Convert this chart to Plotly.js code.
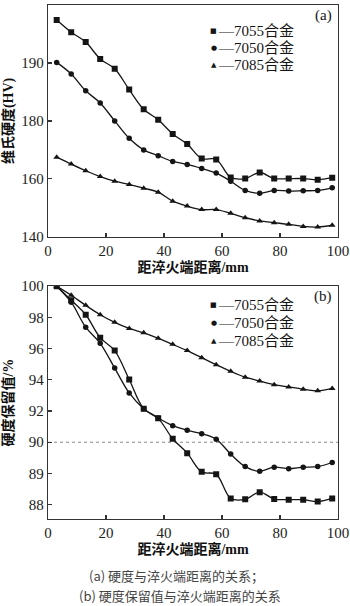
<!DOCTYPE html>
<html>
<head>
<meta charset="utf-8">
<script src="https://cdn.plot.ly/plotly-3.0.1.min.js"></script>
<style>html,body{margin:0;padding:0;background:#fff;}#chart{width:350px;height:606px;}</style>
</head>
<body>
<div id="chart"></div>
<script>
// ---- data ----
const distance = [3, 8, 13, 18, 23, 28, 33, 38, 43, 48, 53, 58, 63, 68, 73, 78, 83, 88, 93, 98];
const alloyNames = ['7055合金', '7050合金', '7085合金'];
const hv7055 = [197.4, 195.3, 193.6, 190.7, 189.0, 185.4, 182.0, 180.2, 175.5, 172.0, 167.0, 166.7, 160.5, 160.1, 162.2, 160.1, 160.1, 160.1, 159.7, 160.4];
const hv7050 = [190.1, 188.1, 185.2, 183.1, 180.0, 174.0, 170.0, 168.0, 166.0, 165.0, 163.6, 162.0, 159.2, 156.0, 155.0, 156.0, 155.8, 155.9, 156.0, 156.9];
const hv7085 = [167.5, 165.1, 162.8, 160.8, 159.2, 158.1, 156.8, 155.4, 152.3, 150.6, 149.4, 149.4, 148.1, 146.6, 145.5, 144.9, 144.3, 143.6, 143.4, 144.0];
const ret7055 = [100, 99.1, 98.17, 96.7, 95.87, 94.02, 92.15, 91.53, 90.22, 89.65, 89.05, 88.97, 88.2, 88.17, 88.4, 88.18, 88.16, 88.16, 88.1, 88.2];
const ret7050 = [100, 98.97, 97.37, 96.34, 94.75, 93.16, 92.15, 91.55, 91.06, 90.77, 90.54, 90.19, 89.62, 89.22, 89.07, 89.2, 89.15, 89.2, 89.22, 89.35];
const ret7085 = [100, 99.42, 98.77, 98.17, 97.68, 97.29, 97.01, 96.66, 96.27, 95.87, 95.42, 94.97, 94.54, 94.17, 93.92, 93.69, 93.54, 93.4, 93.29, 93.45];
const xTicks = [0, 20, 40, 60, 80, 100];
const hvTicks = [140, 160, 180, 190, 200];
const retTicks = [88, 89, 90, 92, 94, 96, 98, 100];
const refLine = 90;
const captionLines = ['(a) 硬度与淬火端距离的关系；', '(b) 硬度保留值与淬火端距离的关系'];

// piecewise axis scales (the original axes are broken-scale)
function hvScale(v) { return v <= 180 ? v : 180 + 2 * (v - 180); }
function retScale(v) { return v >= 90 ? v : 90 - 2 * (90 - v); }

const symbols = ['square', 'circle', 'triangle-up'];
const legendGlyphs = ['■', '●', '▲'];
const ink = '#151515';

const traces = [];
[hv7055, hv7050, hv7085].forEach((s, i) => {
  traces.push({x: distance, y: s.map(hvScale), xaxis: 'x', yaxis: 'y', mode: 'lines+markers',
    name: alloyNames[i], line: {shape: 'spline', color: ink, width: 1.3},
    marker: {symbol: symbols[i], size: i === 1 ? 5.5 : 6, color: ink}});
});
[ret7055, ret7050, ret7085].forEach((s, i) => {
  traces.push({x: distance, y: s.map(retScale), xaxis: 'x2', yaxis: 'y2', mode: 'lines+markers',
    name: alloyNames[i], line: {shape: 'spline', color: ink, width: 1.3},
    marker: {symbol: symbols[i], size: i === 1 ? 5.5 : 6, color: ink}});
});

// pixel helpers
const L = 48, R = 338.3, T = 5, B = 518.7;
const px = p => (p - L) / (R - L);
const py = p => (B - p) / (B - T);

const tickFont = {family: 'Liberation Serif, serif', size: 15, color: '#222'};
const titleFont = {family: 'Liberation Serif, Noto Sans CJK SC', size: 14, color: '#111'};
const axCommon = {showline: true, mirror: true, linecolor: '#333', linewidth: 1.3,
  ticks: 'inside', ticklen: 4, tickwidth: 1.2, tickcolor: '#333', showgrid: false, zeroline: false,
  tickfont: tickFont};

const xCommon = Object.assign({}, axCommon, {range: [0, 100], tickvals: xTicks, ticktext: xTicks.map(String),
  title: {text: '<b>距淬火端距离/mm</b>', font: titleFont, standoff: 4}});

const annotations = [];
function legendBlock(yRows) {
  alloyNames.forEach((n, i) => {
    annotations.push({xref: 'paper', yref: 'paper', x: px(214), y: py(yRows[i]), xanchor: 'center', yanchor: 'middle',
      text: legendGlyphs[i], showarrow: false, font: {family: 'DejaVu Sans', size: 7, color: ink}});
    annotations.push({xref: 'paper', yref: 'paper', x: px(216.5), y: py(yRows[i]), xanchor: 'left', yanchor: 'middle',
      text: '—' + n, showarrow: false,
      font: {family: 'Liberation Serif, Noto Sans CJK SC', size: 15, color: ink}});
  });
}
legendBlock([30.7, 48.3, 64.6]);
legendBlock([305, 322.7, 340.6]);
annotations.push({xref: 'paper', yref: 'paper', x: px(323.5), y: py(15), xanchor: 'center', yanchor: 'middle',
  text: '(a)', showarrow: false, font: {family: 'Liberation Serif', size: 15, color: ink}});
annotations.push({xref: 'paper', yref: 'paper', x: px(323.5), y: py(296.5), xanchor: 'center', yanchor: 'middle',
  text: '(b)', showarrow: false, font: {family: 'Liberation Serif', size: 15, color: ink}});
const capFont = {family: 'Noto Sans CJK SC', size: 13, color: '#444'};
annotations.push({xref: 'paper', yref: 'paper', x: px(177), y: py(575.5), xanchor: 'center', yanchor: 'middle',
  text: captionLines[0], showarrow: false, font: capFont});
annotations.push({xref: 'paper', yref: 'paper', x: px(180.5), y: py(595), xanchor: 'center', yanchor: 'middle',
  text: captionLines[1], showarrow: false, font: capFont});

const layout = {
  width: 350, height: 606,
  margin: {l: L, r: 350 - R, t: T, b: 606 - B},
  paper_bgcolor: '#fff', plot_bgcolor: '#fff', showlegend: false,
  xaxis: Object.assign({}, xCommon, {domain: [0, 1], anchor: 'y'}),
  xaxis2: Object.assign({}, xCommon, {domain: [0, 1], anchor: 'y2'}),
  yaxis: Object.assign({}, axCommon, {domain: [py(236.7), 1], anchor: 'x', range: [140, 220],
    tickvals: hvTicks.map(hvScale), ticktext: hvTicks.map(String),
    title: {text: '<b>维氏硬度(HV)</b>', font: titleFont, standoff: 4}}),
  yaxis2: Object.assign({}, axCommon, {domain: [0, py(286)], anchor: 'x2', range: [85.08, 100],
    tickvals: retTicks.map(retScale), ticktext: retTicks.map(String),
    title: {text: '<b>硬度保留值/%</b>', font: titleFont, standoff: 4}}),
  shapes: [{type: 'line', xref: 'x2 domain', yref: 'y2', x0: 0, x1: 1, y0: retScale(refLine), y1: retScale(refLine),
    line: {color: '#888', width: 1, dash: 'dot'}, layer: 'below'}],
  annotations: annotations
};

Plotly.newPlot('chart', traces, layout, {displayModeBar: false, staticPlot: true});
</script>
</body>
</html>
